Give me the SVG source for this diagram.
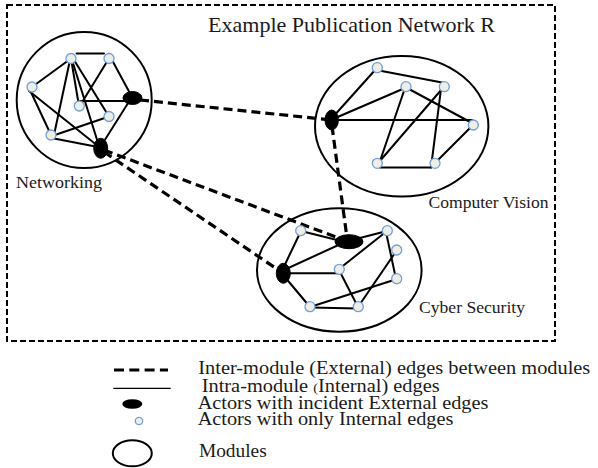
<svg xmlns="http://www.w3.org/2000/svg" width="598" height="468" viewBox="0 0 598 468">
<style>
  text { font-family: "Liberation Serif", "Times New Roman", serif; fill: #1a1a1a; }
  .lbl { font-size: 17.5px; }
  .leg { font-size: 18.5px; }
  .mod { fill: none; stroke: #000; stroke-width: 2; }
  .int { stroke: #000; stroke-width: 2; fill: none; stroke-linecap: round; }
  .ext { stroke: #000; stroke-width: 3.2; fill: none; stroke-dasharray: 9 5; }
  .act { fill: #efeee6; stroke: #6fa0d8; stroke-width: 1.3; }
  .hub { fill: #000; stroke: #000; stroke-width: 1; }
</style>
<rect width="598" height="468" fill="#fff"/>
<rect x="7" y="5" width="548" height="336" fill="none" stroke="#000" stroke-width="2" stroke-dasharray="6 3"/>
<text x="208" y="32" font-size="22" textLength="287" lengthAdjust="spacingAndGlyphs">Example Publication Network R</text>

<g id="module-networking">
  <ellipse class="mod" cx="84.2" cy="100" rx="67.5" ry="68"/>
  <text class="lbl" x="16" y="188" textLength="86" lengthAdjust="spacingAndGlyphs">Networking</text>
</g>
<g id="module-computer-vision">
  <ellipse class="mod" cx="401.7" cy="126.3" rx="86.7" ry="70.3"/>
  <text class="lbl" x="428.5" y="208" textLength="120" lengthAdjust="spacingAndGlyphs">Computer Vision</text>
</g>
<g id="module-cyber-security">
  <ellipse class="mod" cx="339.3" cy="270" rx="82.3" ry="61.7"/>
  <text class="lbl" x="419" y="313" textLength="106" lengthAdjust="spacingAndGlyphs">Cyber Security</text>
</g>

<g id="connectors">
  <!-- Networking internal -->
  <line class="int" x1="76.5" y1="53.5" x2="104" y2="53.5"/>
  <line class="int" x1="71" y1="58.5" x2="32" y2="87"/>
  <line class="int" x1="30" y1="90" x2="51" y2="135"/>
  <line class="int" x1="29" y1="91" x2="100.7" y2="148.3"/>
  <line class="int" x1="70" y1="60" x2="54" y2="135"/>
  <line class="int" x1="71" y1="58.5" x2="79" y2="106"/>
  <line class="int" x1="72" y1="60" x2="99" y2="146"/>
  <line class="int" x1="74" y1="60" x2="109" y2="116.5"/>
  <line class="int" x1="108" y1="60" x2="81" y2="104"/>
  <line class="int" x1="112" y1="60" x2="132.5" y2="98"/>
  <line class="int" x1="80" y1="101" x2="132" y2="101"/>
  <line class="int" x1="52" y1="136" x2="109" y2="116.5"/>
  <line class="int" x1="54" y1="138.5" x2="98" y2="147"/>
  <line class="int" x1="130" y1="100" x2="101" y2="146"/>
  <!-- Computer Vision internal -->
  <line class="int" x1="379" y1="70.5" x2="442" y2="82.5"/>
  <line class="int" x1="332" y1="118" x2="376" y2="69"/>
  <line class="int" x1="333" y1="119" x2="405" y2="88"/>
  <line class="int" x1="334" y1="120" x2="472" y2="120"/>
  <line class="int" x1="407" y1="88" x2="472" y2="123"/>
  <line class="int" x1="405" y1="88" x2="380" y2="161"/>
  <line class="int" x1="442" y1="89" x2="379" y2="162"/>
  <line class="int" x1="441" y1="89" x2="431" y2="167.5"/>
  <line class="int" x1="380" y1="167.5" x2="431" y2="167.5"/>
  <line class="int" x1="436" y1="162" x2="472" y2="126"/>
  <!-- Cyber Security internal -->
  <line class="int" x1="301" y1="231" x2="345" y2="242"/>
  <line class="int" x1="352" y1="240" x2="387" y2="231"/>
  <line class="int" x1="300" y1="233" x2="283.3" y2="268"/>
  <line class="int" x1="284" y1="270" x2="345" y2="242"/>
  <line class="int" x1="284" y1="273.3" x2="339" y2="273.3"/>
  <line class="int" x1="284" y1="276" x2="310" y2="307"/>
  <line class="int" x1="339" y1="269" x2="387" y2="231"/>
  <line class="int" x1="386" y1="232" x2="396" y2="279"/>
  <line class="int" x1="339" y1="270" x2="358" y2="307"/>
  <line class="int" x1="358" y1="307" x2="397" y2="250"/>
  <line class="int" x1="310" y1="307" x2="397" y2="279"/>
  <line class="int" x1="310" y1="307.5" x2="358" y2="308.5"/>
  <!-- External (inter-module) edges -->
  <line class="ext" x1="140" y1="100" x2="331.7" y2="120"/>
  <line class="ext" x1="104" y1="150" x2="344" y2="240"/>
  <line class="ext" x1="104" y1="152" x2="283.3" y2="273.3"/>
  <line class="ext" x1="332" y1="126" x2="347" y2="238"/>
</g>

<!-- Networking actors -->
<g id="n-a"><circle class="act" cx="71" cy="58.5" r="5"/></g>
<g id="n-b"><circle class="act" cx="109" cy="58.5" r="5"/></g>
<g id="n-c"><circle class="act" cx="32" cy="87" r="5"/></g>
<g id="n-d"><circle class="act" cx="79.3" cy="106" r="5"/></g>
<g id="n-e"><circle class="act" cx="109" cy="116.5" r="5"/></g>
<g id="n-f"><circle class="act" cx="51" cy="135" r="5"/></g>
<g id="n-g"><ellipse class="hub" cx="132.5" cy="98" rx="9.5" ry="6.5"/></g>
<g id="n-h"><ellipse class="hub" cx="100.7" cy="148.3" rx="7" ry="10"/></g>

<!-- Computer Vision actors -->
<g id="cv-1"><circle class="act" cx="377.3" cy="67.7" r="5"/></g>
<g id="cv-2"><circle class="act" cx="406" cy="86.7" r="5"/></g>
<g id="cv-3"><circle class="act" cx="444.3" cy="86.7" r="5"/></g>
<g id="cv-4"><circle class="act" cx="473.3" cy="125" r="5"/></g>
<g id="cv-5"><circle class="act" cx="377.3" cy="163.3" r="5"/></g>
<g id="cv-6"><circle class="act" cx="435" cy="163.3" r="5"/></g>
<g id="cv-k"><ellipse class="hub" cx="331.7" cy="120" rx="6.7" ry="10"/></g>

<!-- Cyber Security actors -->
<g id="cs-1"><circle class="act" cx="300.7" cy="230.7" r="5"/></g>
<g id="cs-2"><circle class="act" cx="387.3" cy="230.7" r="5"/></g>
<g id="cs-3"><circle class="act" cx="396.7" cy="250" r="5"/></g>
<g id="cs-4"><circle class="act" cx="339.3" cy="269.3" r="5"/></g>
<g id="cs-5"><circle class="act" cx="396.7" cy="278.7" r="5"/></g>
<g id="cs-6"><circle class="act" cx="310" cy="306.7" r="5"/></g>
<g id="cs-7"><circle class="act" cx="358.3" cy="306.7" r="5"/></g>
<g id="cs-l"><ellipse class="hub" cx="349" cy="241.7" rx="14" ry="7"/></g>
<g id="cs-m"><ellipse class="hub" cx="283.3" cy="273.3" rx="7" ry="10"/></g>

<g id="legend">
  <line x1="114" y1="370" x2="168" y2="370" stroke="#000" stroke-width="3" stroke-dasharray="10 5.3"/>
  <text class="leg" x="198.3" y="373.5" textLength="392" lengthAdjust="spacingAndGlyphs">Inter-module (External) edges between modules</text>
  <line x1="113.3" y1="388.3" x2="170.7" y2="388.3" stroke="#000" stroke-width="1.2"/>
  <text class="leg" x="201.7" y="391.5" textLength="238" lengthAdjust="spacingAndGlyphs">Intra-module <tspan font-size="13">(</tspan>Internal) edges</text>
  <ellipse cx="132.3" cy="404" rx="10" ry="4.8" fill="#000"/>
  <text class="leg" x="197.7" y="408.5" textLength="290.7" lengthAdjust="spacingAndGlyphs">Actors with incident External edges</text>
  <circle class="act" cx="139" cy="421" r="3.7"/>
  <text class="leg" x="197.7" y="425" textLength="255.7" lengthAdjust="spacingAndGlyphs">Actors with only Internal edges</text>
  <ellipse cx="132.3" cy="453.3" rx="19.5" ry="13" fill="none" stroke="#000" stroke-width="2"/>
  <text class="leg" x="199" y="456.7" textLength="67.7" lengthAdjust="spacingAndGlyphs">Modules</text>
</g>
</svg>
